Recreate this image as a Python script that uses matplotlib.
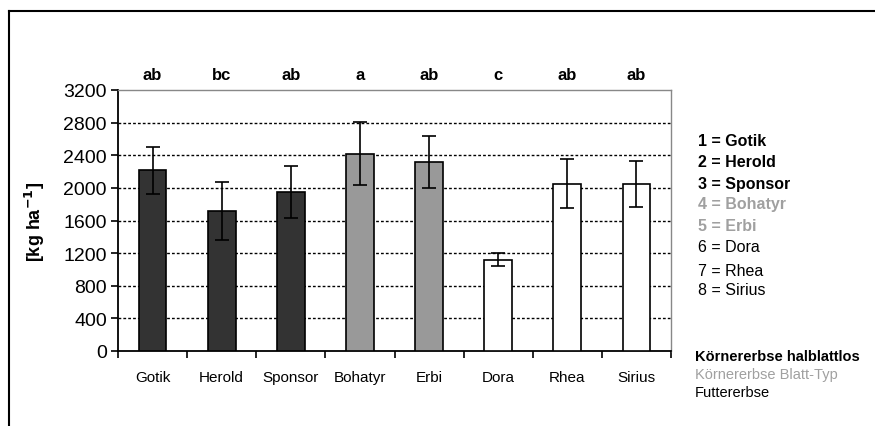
import matplotlib
matplotlib.use("Agg")
import matplotlib.pyplot as plt
from matplotlib.lines import Line2D
import numpy as np

plt.rcParams['font.family'] = ['Liberation Sans', 'DejaVu Sans']

categories = ["Gotik", "Herold", "Sponsor", "Bohatyr", "Erbi", "Dora", "Rhea", "Sirius"]
values = [2215, 1715, 1945, 2420, 2315, 1120, 2050, 2050]
errors = [290, 360, 320, 385, 315, 80, 300, 280]
letters = ["ab", "bc", "ab", "a", "ab", "c", "ab", "ab"]
groups = [0, 0, 0, 1, 1, 2, 2, 2]
group_colors = ["#333333", "#999999", "#ffffff"]
legend_items = ["1 = Gotik", "2 = Herold", "3 = Sponsor", "4 = Bohatyr", "5 = Erbi",
                "6 = Dora", "7 = Rhea", "8 = Sirius"]
group_names = ["Körnererbse halblattlos", "Körnererbse Blatt-Typ", "Futtererbse"]
yticks = [0, 400, 800, 1200, 1600, 2000, 2400, 2800, 3200]

W, H = 875, 427
fig = plt.figure(figsize=(W / 100, H / 100), dpi=100)
ax = fig.add_axes([118 / W, 1 - 352 / H, (671 - 118) / W, (352 - 91) / H])

x = np.arange(len(categories))
colors = [group_colors[g] for g in groups]
ax.bar(x, values, width=0.4, color=colors, edgecolor="black", linewidth=1.2, zorder=3)
ax.errorbar(x, values, yerr=errors, fmt="none", ecolor="black", elinewidth=1.2,
            capsize=5, capthick=1.2, zorder=4)

ax.set_xlim(-0.5, len(categories) - 0.5)
ax.set_ylim(0, 3200)
ax.set_yticks(yticks)
ax.set_yticklabels([str(t) for t in yticks], fontsize=14)
for t in yticks[1:-1]:
    ax.axhline(t, color="black", linestyle=(0, (2, 1.5)), linewidth=1, zorder=1)

ax.set_xticks(x)
ax.set_xticklabels(categories, fontsize=11)
ax.tick_params(axis="x", length=0, pad=14)
ax.set_xticks(np.arange(-0.5, len(categories)), minor=True)
ax.tick_params(axis="x", which="minor", length=5, width=1.2, direction="out")
ax.tick_params(axis="y", length=5, width=1.2, direction="out", pad=3)

ax.spines["left"].set_linewidth(1.3)
ax.spines["bottom"].set_linewidth(1.3)
ax.spines["top"].set_color("#888888")
ax.spines["right"].set_color("#888888")
ax.spines["top"].set_linewidth(1)
ax.spines["right"].set_linewidth(1)

ax.set_ylabel("[kg ha$^{\\mathbf{-1}}$]", fontsize=13, fontweight="bold")
ax.yaxis.set_label_coords((47 - 118) / (671 - 118), 0.5)

for xi, lt in zip(x, letters):
    ax.text(xi, 3390, lt, ha="center", va="center", fontsize=12, fontweight="bold",
            clip_on=False)

# legend text
leg_y = [142, 163, 184, 205, 227, 248, 271, 291]
leg_style = [("black", "bold"), ("black", "bold"), ("black", "bold"),
             ("#a0a0a0", "bold"), ("#a0a0a0", "bold"),
             ("black", "normal"), ("black", "normal"), ("black", "normal")]
for txt, yy, (c, fw) in zip(legend_items, leg_y, leg_style):
    fig.text(698 / W, 1 - yy / H, txt, ha="left", va="center", fontsize=11.5,
             color=c, fontweight=fw)

grp_y = [357, 375, 393]
grp_style = [("black", "bold"), ("#a0a0a0", "normal"), ("black", "normal")]
for txt, yy, (c, fw) in zip(group_names, grp_y, grp_style):
    fig.text(695 / W, 1 - yy / H, txt, ha="left", va="center", fontsize=10.5,
             color=c, fontweight=fw)

# outer frame (top and left visible)
fig.add_artist(Line2D([9 / W, 1.0], [1 - 12 / H, 1 - 12 / H], color="black",
                      linewidth=1.5, transform=fig.transFigure))
fig.add_artist(Line2D([9 / W, 9 / W], [0.0, 1 - 12 / H], color="black",
                      linewidth=1.5, transform=fig.transFigure))

fig.savefig("out.png", dpi=100, facecolor="white")
